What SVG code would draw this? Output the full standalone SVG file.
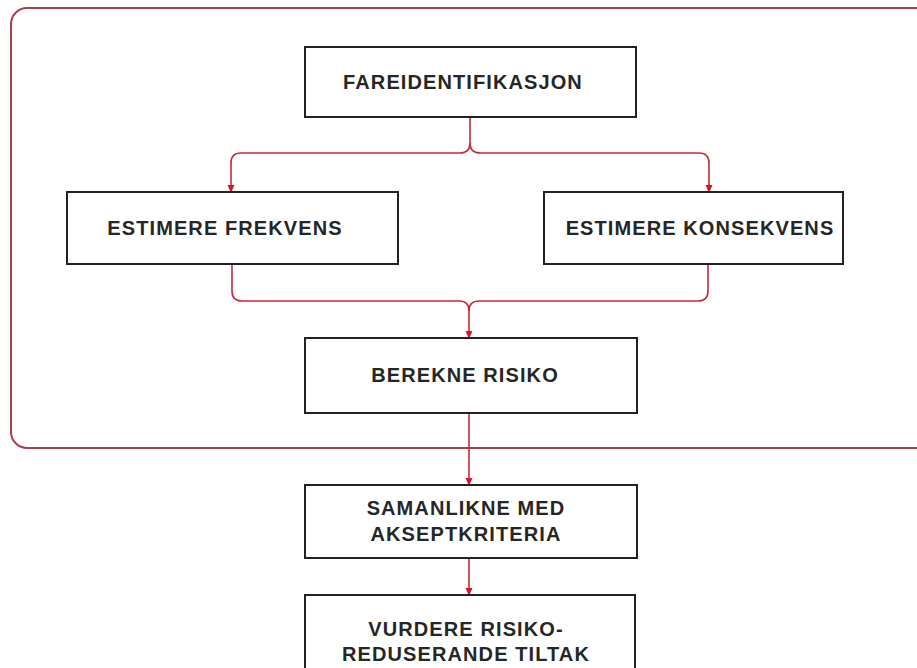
<svg xmlns="http://www.w3.org/2000/svg" width="917" height="668" viewBox="0 0 917 668">
<defs>
<style>
.box{fill:#fff;stroke:#222;stroke-width:2}
.t{font-family:"Liberation Sans",Arial,sans-serif;font-weight:bold;font-size:20px;letter-spacing:1.1px;fill:#262626;text-anchor:middle}
.c{fill:none;stroke:#c8283c;stroke-width:1.6}
</style>
<marker id="ah" markerWidth="8" markerHeight="8" refX="7" refY="4" orient="auto" markerUnits="userSpaceOnUse">
<path d="M0,0.5 L8,4 L0,7.5 Z" fill="#d01830"/>
</marker>
</defs>
<rect width="917" height="668" fill="#fff"/>
<rect id="frame" x="11" y="8" width="930" height="440" rx="16" fill="none" stroke="#a84050" stroke-width="2"/>
<g id="connectors">
<path class="c" d="M470,117 V143 Q470,153 460,153 H241 Q231,153 231,163 V192" marker-end="url(#ah)"/>
<path class="c" d="M470,143 Q470,153 480,153 H699 Q709,153 709,163 V192" marker-end="url(#ah)"/>
<path class="c" d="M232,264 V291 Q232,301 242,301 H459 Q469,301 469,311 V338" marker-end="url(#ah)"/>
<path class="c" d="M708,264 V291 Q708,301 698,301 H479 Q469,301 469,311"/>
<path class="c" d="M469,413 V485" marker-end="url(#ah)"/>
<path class="c" d="M469,558 V595" marker-end="url(#ah)"/>
</g>
<g id="n1"><rect class="box" x="305" y="47" width="331" height="70"/><text class="t" x="463" y="89">FAREIDENTIFIKASJON</text></g>
<g id="n2"><rect class="box" x="67" y="192" width="331" height="72"/><text class="t" x="225" y="235">ESTIMERE FREKVENS</text></g>
<g id="n3"><rect class="box" x="544" y="192" width="299" height="72"/><text class="t" x="700" y="235">ESTIMERE KONSEKVENS</text></g>
<g id="n4"><rect class="box" x="305" y="338" width="332" height="75"/><text class="t" x="465" y="382">BEREKNE RISIKO</text></g>
<g id="n5"><rect class="box" x="305" y="485" width="332" height="73"/><text class="t" x="466" y="515">SAMANLIKNE MED</text><text class="t" x="466" y="541">AKSEPTKRITERIA</text></g>
<g id="n6"><rect class="box" x="305" y="595" width="330" height="80"/><text class="t" x="466" y="636">VURDERE RISIKO-</text><text class="t" x="466" y="661">REDUSERANDE TILTAK</text></g>
</svg>
